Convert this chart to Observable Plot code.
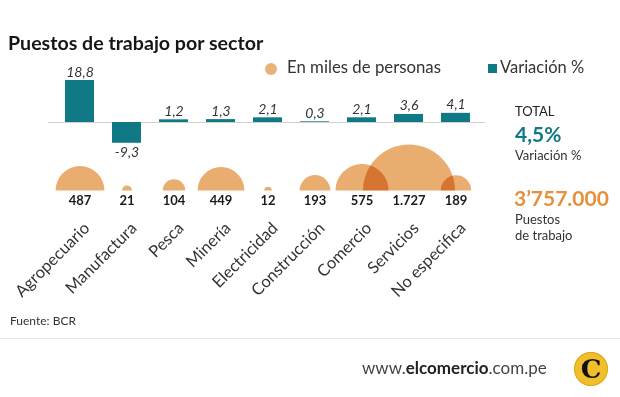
<!DOCTYPE html>
<html><head><meta charset="utf-8">
<script src="https://cdn.jsdelivr.net/npm/d3@7"></script>
<script src="https://cdn.jsdelivr.net/npm/@observablehq/plot@0.6"></script>
<style>
body{margin:0;background:#fff;font-family:Lato,sans-serif;}
#wrap{position:relative;width:620px;height:397px;overflow:hidden;background:#fff;}
.abs{position:absolute;white-space:nowrap;line-height:1;}
</style></head><body>
<div id="wrap">
  <div id="chart" class="abs" style="left:0;top:0"></div>
  <div class="abs" style="left:8px;top:33px;font-size:19.6px;font-weight:700;color:#161616">Puestos de trabajo por sector</div>
  <div class="abs" style="left:265px;top:63px;width:12px;height:12px;border-radius:50%;background:#e8b27b"></div>
  <div class="abs" style="left:287px;top:59px;font-size:16.8px;color:#333">En miles de personas</div>
  <div class="abs" style="left:488px;top:64px;width:9px;height:9px;background:#0f7a86"></div>
  <div class="abs" style="left:500px;top:59px;font-size:16.5px;color:#333">Variación %</div>
  <div class="abs" style="left:515px;top:105px;font-size:13px;color:#222">TOTAL</div>
  <div id="totVar" class="abs" style="left:515px;top:123px;font-size:21px;font-weight:700;color:#0f7a86"></div>
  <div class="abs" style="left:515px;top:149px;font-size:13px;color:#333">Variación %</div>
  <div id="totJobs" class="abs" style="left:514px;top:187px;font-size:21px;font-weight:700;color:#e4913c"></div>
  <div class="abs" style="left:515px;top:213px;font-size:13px;color:#333">Puestos</div>
  <div class="abs" style="left:515px;top:229px;font-size:13px;color:#333">de trabajo</div>
  <div class="abs" style="left:10px;top:315px;font-size:12px;color:#333">Fuente: BCR</div>
  <div class="abs" style="left:0;top:338px;width:620px;height:1px;background:#e2e2e2"></div>
  <div class="abs" style="left:362px;top:359px;font-size:17px;color:#444">www.<b style="color:#222">elcomercio</b>.com.pe</div>
  <div class="abs" style="left:574px;top:352px;width:34px;height:34px;border-radius:50%;background:#f1bf2c;box-shadow:0 0 0 1px #d9a820 inset;text-align:center;">
    <span style="display:inline-block;margin-top:4px;font-family:'DejaVu Serif',serif;font-weight:700;font-size:26px;color:#111">C</span>
  </div>
</div>
<script>
const sectors = ["Agropecuario","Manufactura","Pesca","Minería","Electricidad","Construcción","Comercio","Servicios","No especifica"];
const variation = [18.8, -9.3, 1.2, 1.3, 2.1, 0.3, 2.1, 3.6, 4.1];
const workers = [487, 21, 104, 449, 12, 193, 575, 1727, 189];
const totalVariation = 4.5;
const totalJobs = 3757000;

const loc = d3.formatLocale({decimal: ",", thousands: ".", grouping: [3], currency: ["", ""], minus: "-"});
const fmtVar = loc.format(".1f");
const fmtInt = loc.format(",d");

document.getElementById("totVar").textContent = fmtVar(totalVariation) + "%";
document.getElementById("totJobs").textContent = fmtInt(totalJobs).replace(".", "\u2019");

const data = sectors.map((s, i) => ({sector: s, variation: variation[i], workers: workers[i]}));

const teal = "#0f7a86";
const orange = "#e9ad6f";

const semicircle = {
  draw(context, size) {
    const r = Math.sqrt(size / Math.PI);
    context.moveTo(r, 0);
    context.arc(0, 0, r, 0, Math.PI, true);
    context.closePath();
  }
};

const chart = Plot.plot({
  width: 620,
  height: 300,
  marginLeft: 48,
  marginRight: 135,
  marginTop: 60,
  marginBottom: 110,
  style: {fontFamily: "Lato, sans-serif", fontSize: "13px", color: "#222", background: "transparent"},
  x: {domain: sectors, range: [52, 482], paddingInner: 0.39, paddingOuter: 0.195, axis: null},
  y: {domain: [0, 18.8], range: [122, 80], axis: null},
  r: {type: "sqrt", domain: [0, 1727], range: [0, 46]},
  marks: [
    Plot.ruleY([0], {stroke: "#cfcfcf", strokeWidth: 1}),
    Plot.barY(data, {x: "sector", y: "variation", fill: teal}),
    Plot.text(data.filter(d => d.variation >= 0), {x: "sector", y: "variation", text: d => fmtVar(d.variation), lineAnchor: "bottom", dy: -4, fontStyle: "italic", fontSize: 14, fill: "#333"}),
    Plot.text(data.filter(d => d.variation < 0), {x: "sector", y: "variation", text: d => fmtVar(d.variation), lineAnchor: "top", dy: 4, fontStyle: "italic", fontSize: 14, fill: "#333"}),
    Plot.dot(data, {x: "sector", r: "workers", symbol: semicircle, fill: orange, stroke: "none", frameAnchor: "bottom", mixBlendMode: "multiply"}),
    Plot.text(data, {x: "sector", text: d => fmtInt(d.workers), frameAnchor: "bottom", dy: 10, lineAnchor: "middle", fontWeight: 700, fontSize: 13, fill: "#1a1a1a"}),
    Plot.text(data, {x: "sector", text: "sector", frameAnchor: "bottom", rotate: -45, textAnchor: "end", lineAnchor: "middle", dx: 7, dy: 35, fontSize: 16.5, fill: "#333"})
  ]
});
chart.querySelectorAll('g[aria-label="dot"] path').forEach(p => p.style.mixBlendMode = "multiply");
document.getElementById("chart").appendChild(chart);
</script>
</body></html>
